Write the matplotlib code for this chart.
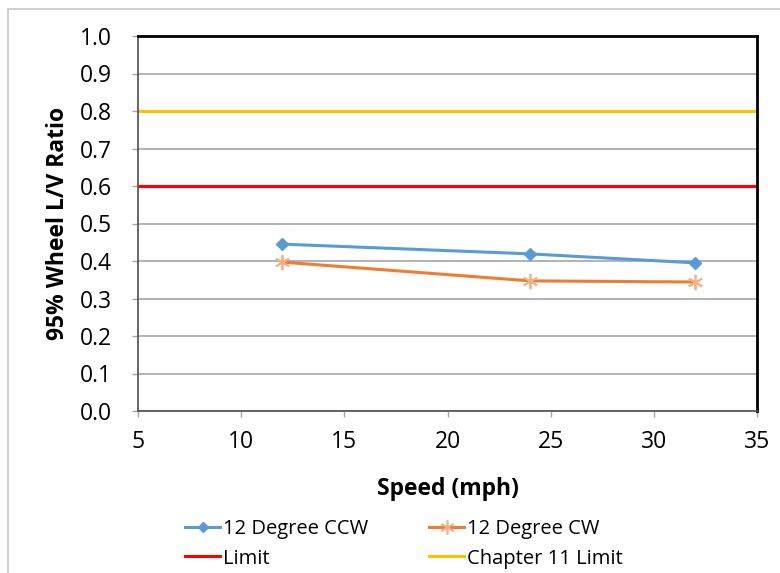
import matplotlib
matplotlib.use("Agg")
import matplotlib.pyplot as plt
from matplotlib.lines import Line2D
from matplotlib.patches import Rectangle

plt.rcParams['font.family'] = ['Open Sans', 'DejaVu Sans']

speed = [12, 24, 32]
ccw = [0.445, 0.419, 0.395]
cw = [0.397, 0.347, 0.344]
limit = 0.6
ch11_limit = 0.8

x_ticks = [5, 10, 15, 20, 25, 30, 35]
y_ticks = [0.0, 0.1, 0.2, 0.3, 0.4, 0.5, 0.6, 0.7, 0.8, 0.9, 1.0]

fig = plt.figure(figsize=(7.8, 5.73), dpi=100)
W, H = 780, 573
ax = fig.add_axes([138 / W, 1 - 411 / H, (757 - 138) / W, (411 - 36) / H])

# outer chart border
fig.add_artist(Rectangle((8 / W, -0.1), 1.2, 1 - 9 / H + 0.1, transform=fig.transFigure,
                         fill=False, edgecolor='#c8c8c8', lw=1.2))

ax.set_xlim(5, 35)
ax.set_ylim(0, 1.0)
ax.set_xticks(x_ticks)
ax.set_yticks(y_ticks)
ax.set_yticklabels([f"{v:.1f}" for v in y_ticks])
ax.yaxis.grid(True, color='#a6a6a6', lw=1.2)
ax.set_axisbelow(True)

for side in ['top', 'right']:
    ax.spines[side].set_color('black')
    ax.spines[side].set_linewidth(2)
for side in ['left', 'bottom']:
    ax.spines[side].set_color('#5a5a5a')
    ax.spines[side].set_linewidth(1.3)

ax.tick_params(axis='both', direction='out', length=4, width=1, color='#a6a6a6',
               labelsize=16.5)
ax.tick_params(axis='y', pad=15)
ax.tick_params(axis='x', pad=10)

ax.axhline(limit, color='#ff0000', lw=2.2)
ax.axhline(ch11_limit, color='#ffc000', lw=2.2)
ax.plot(speed, ccw, color='#5b9bd5', lw=2.2, marker='D', ms=6)
ax.plot(speed, cw, color='#ed7d31', lw=2.2, marker=(6, 2, 0), ms=11,
        markeredgecolor='#f4b183', markeredgewidth=1.3)

ax.set_xlabel("Speed (mph)", fontsize=16.5, fontweight='bold', labelpad=16)
ax.set_ylabel("95% Wheel L/V Ratio", fontsize=16.5, fontweight='bold', labelpad=7)

h_ccw = Line2D([], [], color='#5b9bd5', lw=2.2, marker='D', ms=5)
h_cw = Line2D([], [], color='#ed7d31', lw=2.2, marker=(6, 2, 0), ms=10,
              markeredgecolor='#f4b183', markeredgewidth=1.2)
h_lim = Line2D([], [], color='#ff0000', lw=2.2)
h_ch11 = Line2D([], [], color='#ffc000', lw=2.2)
# column-major ordering so rows read: CCW, CW / Limit, Chapter 11 Limit
handles = [h_ccw, h_lim, h_cw, h_ch11]
labels = ["12 Degree CCW", "Limit", "12 Degree CW", "Chapter 11 Limit"]
fig.legend(handles, labels, ncol=2, loc='center', bbox_to_anchor=(0.518, 1 - 544 / H),
           frameon=False, fontsize=14.5, handlelength=1.75, handletextpad=0.15,
           columnspacing=3.0, labelspacing=0.45)

fig.savefig("out.png", dpi=100, facecolor='white')
